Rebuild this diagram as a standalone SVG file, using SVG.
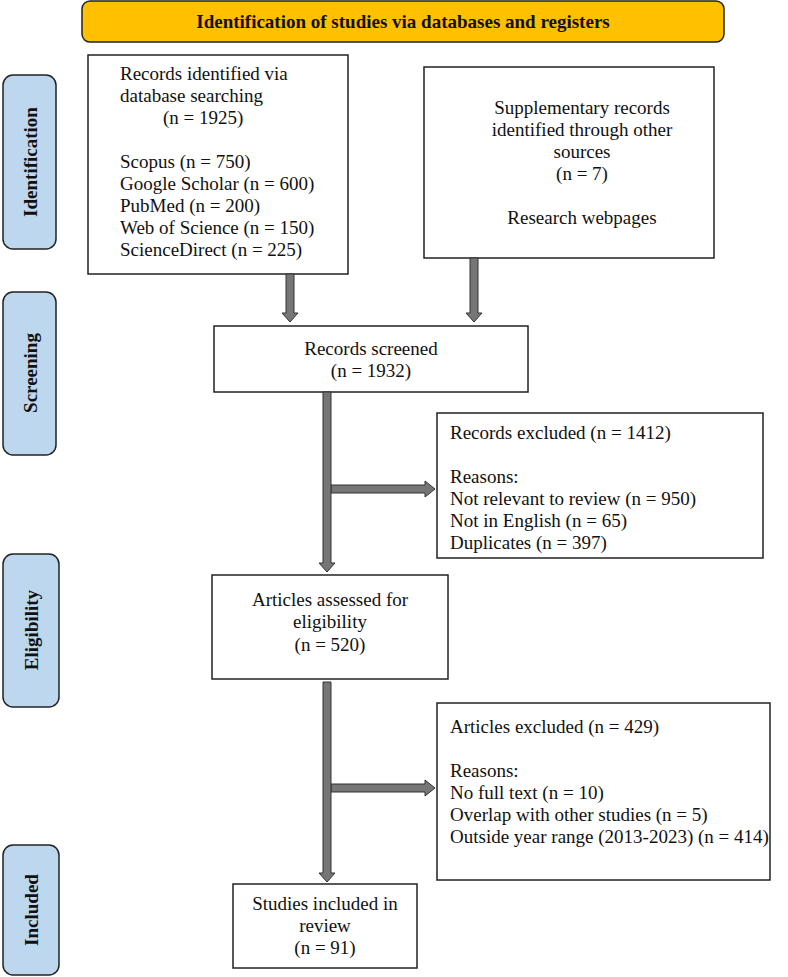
<svg xmlns="http://www.w3.org/2000/svg" width="788" height="977" viewBox="0 0 788 977">
<style>
.box{fill:#fff;stroke:#222;stroke-width:1.5}
.side{fill:#BDD7EE;stroke:#222;stroke-width:1.5}
.hdr{fill:#FFC000;stroke:#222;stroke-width:1.5}
.t{font-family:"Liberation Serif","Times New Roman",serif;font-size:19px;fill:#111}
.c{text-anchor:middle}
.b{font-weight:bold;font-size:19px}
.arr{fill:#767676;stroke:#333;stroke-width:1}
</style>
<rect width="788" height="977" fill="#fff"/>
<g id="header">
<rect class="hdr" x="82" y="1" width="642" height="41" rx="8"/>
<text class="t b c" x="403" y="28">Identification of studies via databases and registers</text>
</g>
<g id="stage-identification">
<rect class="side" x="3" y="75" width="53" height="174" rx="10"/>
<text class="t b c" transform="translate(37,162) rotate(-90)">Identification</text>
</g>
<g id="stage-screening">
<rect class="side" x="3" y="292" width="53" height="163" rx="10"/>
<text class="t b c" transform="translate(37,373) rotate(-90)">Screening</text>
</g>
<g id="stage-eligibility">
<rect class="side" x="3" y="554" width="56" height="153" rx="10"/>
<text class="t b c" transform="translate(38,630) rotate(-90)">Eligibility</text>
</g>
<g id="stage-included">
<rect class="side" x="3" y="845" width="56" height="130" rx="10"/>
<text class="t b c" transform="translate(38,910) rotate(-90)">Included</text>
</g>
<g id="records-identified">
<rect class="box" x="88" y="55" width="260" height="219"/>
<text class="t" x="120" y="80">Records identified via</text>
<text class="t" x="120" y="102">database searching</text>
<text class="t" x="163" y="124">(n = 1925)</text>
<text class="t" x="120" y="168">Scopus (n = 750)</text>
<text class="t" x="120" y="190">Google Scholar (n = 600)</text>
<text class="t" x="120" y="212">PubMed (n = 200)</text>
<text class="t" x="120" y="234">Web of Science (n = 150)</text>
<text class="t" x="120" y="256">ScienceDirect (n = 225)</text>
</g>
<g id="supplementary">
<rect class="box" x="424" y="67" width="290" height="191"/>
<text class="t c" x="582" y="114">Supplementary records</text>
<text class="t c" x="582" y="136">identified through other</text>
<text class="t c" x="582" y="158">sources</text>
<text class="t c" x="582" y="180">(n = 7)</text>
<text class="t c" x="582" y="224">Research webpages</text>
</g>
<g id="screened">
<rect class="box" x="214" y="326" width="314" height="66"/>
<text class="t c" x="371" y="355">Records screened</text>
<text class="t c" x="371" y="377">(n = 1932)</text>
</g>
<g id="records-excluded">
<rect class="box" x="437" y="413" width="326" height="145"/>
<text class="t" x="450" y="439">Records excluded (n = 1412)</text>
<text class="t" x="450" y="483">Reasons:</text>
<text class="t" x="450" y="505">Not relevant to review (n = 950)</text>
<text class="t" x="450" y="527">Not in English (n = 65)</text>
<text class="t" x="450" y="549">Duplicates (n = 397)</text>
</g>
<g id="eligibility">
<rect class="box" x="212" y="575" width="236" height="104"/>
<text class="t c" x="330" y="606">Articles assessed for</text>
<text class="t c" x="330" y="628">eligibility</text>
<text class="t c" x="330" y="651">(n = 520)</text>
</g>
<g id="articles-excluded">
<rect class="box" x="437" y="703" width="333" height="177"/>
<text class="t" x="450" y="733">Articles excluded (n = 429)</text>
<text class="t" x="450" y="777">Reasons:</text>
<text class="t" x="450" y="799">No full text (n = 10)</text>
<text class="t" x="450" y="821">Overlap with other studies (n = 5)</text>
<text class="t" x="450" y="843">Outside year range (2013-2023) (n = 414)</text>
</g>
<g id="included">
<rect class="box" x="233" y="884" width="184" height="84"/>
<text class="t c" x="325" y="910">Studies included in</text>
<text class="t c" x="325" y="932">review</text>
<text class="t c" x="325" y="954">(n = 91)</text>
</g>
<g id="connectors">
<polygon class="arr" points="286,274 294,274 294,313 298,313 290,322 282,313 286,313"/>
<polygon class="arr" points="470,258 478,258 478,313 482,313 474,322 466,313 470,313"/>
<polygon class="arr" points="331,485 425,485 425,481 435,489 425,497 425,493 331,493"/>
<polygon class="arr" points="323,392 331,392 331,563 335,563 327,572 319,563 323,563"/>
<polygon class="arr" points="331,784 425,784 425,780 435,788 425,796 425,792 331,792"/>
<polygon class="arr" points="323,682 331,682 331,873 335,873 327,882 319,873 323,873"/>
</g>
</svg>
